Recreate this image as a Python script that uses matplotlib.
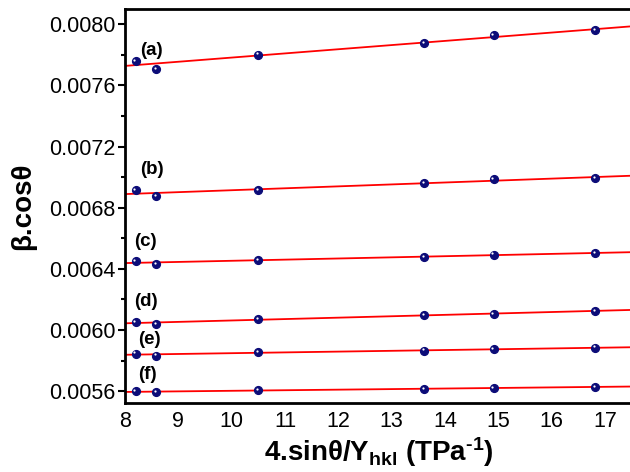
import numpy as np
import matplotlib
matplotlib.use("Agg")
import matplotlib.pyplot as plt
from matplotlib.ticker import FormatStrFormatter, MultipleLocator
from matplotlib.transforms import offset_copy

plt.rcParams['font.family'] = ['Liberation Sans', 'DejaVu Sans']
plt.rcParams['mathtext.fontset'] = 'custom'
plt.rcParams['mathtext.rm'] = 'Liberation Sans'
plt.rcParams['mathtext.bf'] = 'Liberation Sans:bold'
plt.rcParams['mathtext.it'] = 'Liberation Sans:italic'

x_vals = [8.20, 8.59, 10.50, 13.61, 14.91, 16.81]
series_labels = ['(a)', '(b)', '(c)', '(d)', '(e)', '(f)']
y_a = [0.007761, 0.007709, 0.007801, 0.007877, 0.007928, 0.007961]
y_b = [0.006914, 0.006874, 0.006916, 0.006960, 0.006986, 0.006995]
y_c = [0.006449, 0.006430, 0.006458, 0.006478, 0.006493, 0.006502]
y_d = [0.006051, 0.006040, 0.006071, 0.006095, 0.006106, 0.006125]
y_e = [0.005845, 0.005832, 0.005854, 0.005865, 0.005873, 0.005884]
y_f = [0.005600, 0.005591, 0.005604, 0.005615, 0.005622, 0.005626]
series = [y_a, y_b, y_c, y_d, y_e, y_f]
label_x = [8.50, 8.50, 8.39, 8.39, 8.46, 8.42]
label_y = [0.007829, 0.007052, 0.006581, 0.006187, 0.005935, 0.005709]

fig = plt.figure(figsize=(6.3, 4.72), dpi=100)
ax = fig.add_axes([125/630, 1-403/472, (9.5*53.33)/630, (403-9)/472])

xlim = (8, 17.5)
xx = np.array(xlim)
hl = offset_copy(ax.transData, fig=fig, x=-1.2, y=1.2, units='dots')
for ys, lab, lx, ly in zip(series, series_labels, label_x, label_y):
    k, b = np.polyfit(x_vals, ys, 1)
    ax.plot(xx, k*xx + b, color='#ff0000', lw=1.3, zorder=2)
    ax.plot(x_vals, ys, 'o', ms=5.6, color='#0c0c78', mec='#0c0c78', zorder=3)
    ax.plot(x_vals, ys, 'o', ms=1.6, color='white', mec='white', mew=0, zorder=4, transform=hl)
    ax.text(lx, ly, lab, fontsize=13.5, fontweight='bold', ha='center', va='center')

ax.set_xlim(*xlim)
ax.set_ylim(0.005522, 0.008100)
ax.xaxis.set_major_locator(MultipleLocator(1))
ax.yaxis.set_major_locator(MultipleLocator(0.0004))
ax.yaxis.set_minor_locator(MultipleLocator(0.0002))
ax.yaxis.set_major_formatter(FormatStrFormatter('%.4f'))
ax.tick_params(axis='x', length=0, labelsize=15.5, pad=6)
ax.tick_params(axis='y', which='major', length=5, width=1.5, labelsize=15.5, direction='out', pad=2)
ax.tick_params(axis='y', which='minor', length=3, width=1.5, direction='out')
for s in ax.spines.values():
    s.set_linewidth(2.0)

ax.set_ylabel('β.cosθ', fontsize=20, fontweight='bold', labelpad=9)
ax.set_xlabel('4.sinθ/Y$_{\\mathbf{hkl}}$ (TPa$^{\\mathbf{\u20101}}$)', fontsize=20, fontweight='bold', labelpad=2)

fig.savefig('out.png', dpi=100)
